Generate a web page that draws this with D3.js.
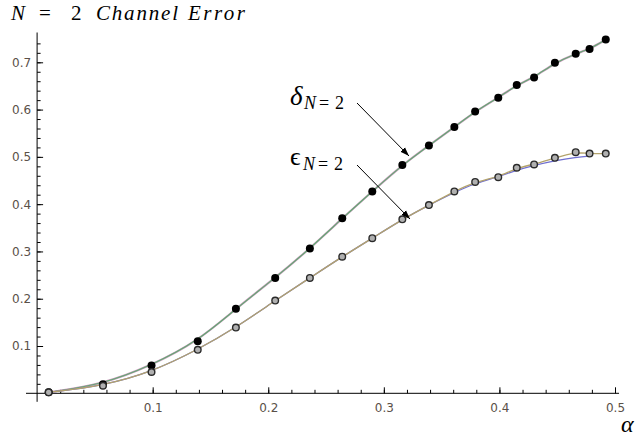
<!DOCTYPE html>
<html>
<head>
<meta charset="utf-8">
<script src="https://cdn.jsdelivr.net/npm/d3@7.9.0/dist/d3.min.js"></script>
</head>
<body style="margin:0">
<svg id="chart" width="636" height="438"></svg>
<script>
// sample points
const alpha = [0.010, 0.057, 0.099, 0.139, 0.172, 0.206, 0.236, 0.264, 0.290, 0.316,
  0.339, 0.361, 0.379, 0.399, 0.415, 0.430, 0.448, 0.466, 0.478, 0.492];
const delta = [0.002, 0.019, 0.059, 0.110, 0.179, 0.244, 0.306, 0.370, 0.427, 0.483,
  0.524, 0.563, 0.596, 0.625, 0.652, 0.668, 0.699, 0.718, 0.728, 0.748];
const epsilon = [0.002, 0.016, 0.045, 0.092, 0.139, 0.196, 0.244, 0.289, 0.328, 0.368,
  0.398, 0.427, 0.447, 0.457, 0.477, 0.484, 0.498, 0.510, 0.507, 0.507];
// second (blue) fit of epsilon bends lower at the end and stops earlier
const epsAltAlpha = [0.010, 0.057, 0.099, 0.139, 0.172, 0.206, 0.236, 0.264, 0.290, 0.316,
  0.339, 0.361, 0.379, 0.399, 0.415, 0.430, 0.448, 0.466, 0.480];
const epsAlt = [0.002, 0.016, 0.045, 0.092, 0.139, 0.196, 0.244, 0.289, 0.328, 0.368,
  0.398, 0.425, 0.444, 0.458, 0.472, 0.482, 0.492, 0.499, 0.502];

const xTicks = [0.1, 0.2, 0.3, 0.4, 0.5];
const yTicks = [0.1, 0.2, 0.3, 0.4, 0.5, 0.6, 0.7];
const xMinor = d3.range(1, 26).map(i => i * 0.02);
const yMinor = d3.range(1, 38).map(i => i * 0.02);

const svg = d3.select('#chart');

const x = d3.scaleLinear().domain([0, 0.5]).range([37.1, 615]);
const y = d3.scaleLinear().domain([0, 0.7]).range([393.3, 62.3]);

// axes lines
svg.append('line')
  .attr('x1', x(-0.0096)).attr('x2', x(0.5035))
  .attr('y1', y(0)).attr('y2', y(0))
  .attr('stroke', '#000').attr('stroke-width', 1);
svg.append('line')
  .attr('x1', x(0)).attr('x2', x(0))
  .attr('y1', y(-0.018)).attr('y2', y(0.763))
  .attr('stroke', '#000').attr('stroke-width', 1);

// minor ticks
svg.append('g')
  .attr('transform', `translate(0,${y(0)})`)
  .call(d3.axisBottom(x).tickValues(xMinor).tickSize(-3.5).tickFormat(''))
  .call(g => g.select('.domain').remove());
svg.append('g')
  .attr('transform', `translate(${x(0)},0)`)
  .call(d3.axisLeft(y).tickValues(yMinor).tickSize(-3.5).tickFormat(''))
  .call(g => g.select('.domain').remove());

// major ticks + labels
svg.append('g')
  .attr('transform', `translate(0,${y(0)})`)
  .call(d3.axisBottom(x).tickValues(xTicks).tickSize(-6).tickPadding(10).tickFormat(d3.format('.1f')))
  .call(g => g.select('.domain').remove());
svg.append('g')
  .attr('transform', `translate(${x(0)},0)`)
  .call(d3.axisLeft(y).tickValues(yTicks).tickSize(-6).tickPadding(6).tickFormat(d3.format('.1f')))
  .call(g => g.select('.domain').remove());

svg.selectAll('.tick line').attr('stroke', '#000');
svg.selectAll('.tick text')
  .attr('font-family', 'DejaVu Sans').attr('font-size', 12).attr('fill', '#5a5048');

// fitted curves
const line = d3.line().curve(d3.curveBasis).x(d => x(d[0])).y(d => y(d[1]));
const deltaPts = alpha.map((a, i) => [a, delta[i]]);
const epsPts = alpha.map((a, i) => [a, epsilon[i]]);
const epsAltPts = epsAltAlpha.map((a, i) => [a, epsAlt[i]]);

svg.append('path').attr('d', line(deltaPts)).attr('fill', 'none')
  .attr('stroke', '#cf9cc0').attr('stroke-width', 2.2);
svg.append('path').attr('d', line(deltaPts)).attr('fill', 'none')
  .attr('stroke', '#62a873').attr('stroke-width', 1.2);
svg.append('path').attr('d', line(epsAltPts)).attr('fill', 'none')
  .attr('stroke', '#6e6ed0').attr('stroke-width', 1.3);
svg.append('path').attr('d', line(epsPts)).attr('fill', 'none')
  .attr('stroke', '#b3a36c').attr('stroke-width', 1.3);

// data points
svg.append('g').selectAll('circle')
  .data(deltaPts).join('circle')
  .attr('cx', d => x(d[0])).attr('cy', d => y(d[1])).attr('r', 4)
  .attr('fill', '#000');
svg.append('g').selectAll('circle')
  .data(epsPts).join('circle')
  .attr('cx', d => x(d[0])).attr('cy', d => y(d[1])).attr('r', 3.3)
  .attr('fill', '#b0b0b0').attr('stroke', '#2a2a2a').attr('stroke-width', 1.4);

// arrows
svg.append('defs').append('marker')
  .attr('id', 'arrow').attr('viewBox', '0 0 10 10')
  .attr('refX', 10).attr('refY', 5)
  .attr('markerWidth', 9).attr('markerHeight', 9)
  .attr('markerUnits', 'userSpaceOnUse')
  .attr('orient', 'auto')
  .append('path').attr('d', 'M0,1.5 L10,5 L0,8.5 Z').attr('fill', '#000');

svg.append('line').attr('x1', 357).attr('y1', 103).attr('x2', 409).attr('y2', 156)
  .attr('stroke', '#000').attr('stroke-width', 1).attr('marker-end', 'url(#arrow)');
svg.append('line').attr('x1', 357).attr('y1', 165).attr('x2', 410).attr('y2', 219)
  .attr('stroke', '#000').attr('stroke-width', 1).attr('marker-end', 'url(#arrow)');

// serif text piece
function serifText(px, py, size, italic, str, width) {
  const t = svg.append('text')
    .attr('x', px).attr('y', py)
    .attr('font-family', 'Liberation Serif')
    .attr('font-size', size)
    .attr('font-style', italic ? 'italic' : 'normal')
    .attr('fill', '#000')
    .text(str);
  if (width) t.attr('textLength', width).attr('lengthAdjust', 'spacing');
  return t;
}

// curve labels
serifText(290, 105, 27, true, 'δ');
serifText(304, 109, 18, true, 'N');
serifText(319, 109, 18, false, '=');
serifText(335, 109, 18, false, '2');

serifText(290, 165, 26, false, 'ϵ');
serifText(303, 170, 18, true, 'N');
serifText(318, 170, 18, false, '=');
serifText(334, 170, 18, false, '2');

// title
serifText(11, 20, 21, true, 'N');
serifText(39, 20, 21, false, '=');
serifText(71, 20, 21, false, '2');
serifText(96, 20, 21, true, 'Channel', 82);
serifText(188, 20, 21, true, 'Error', 57);

// axis label
serifText(621, 432, 24, true, 'α');
</script>
</body>
</html>
